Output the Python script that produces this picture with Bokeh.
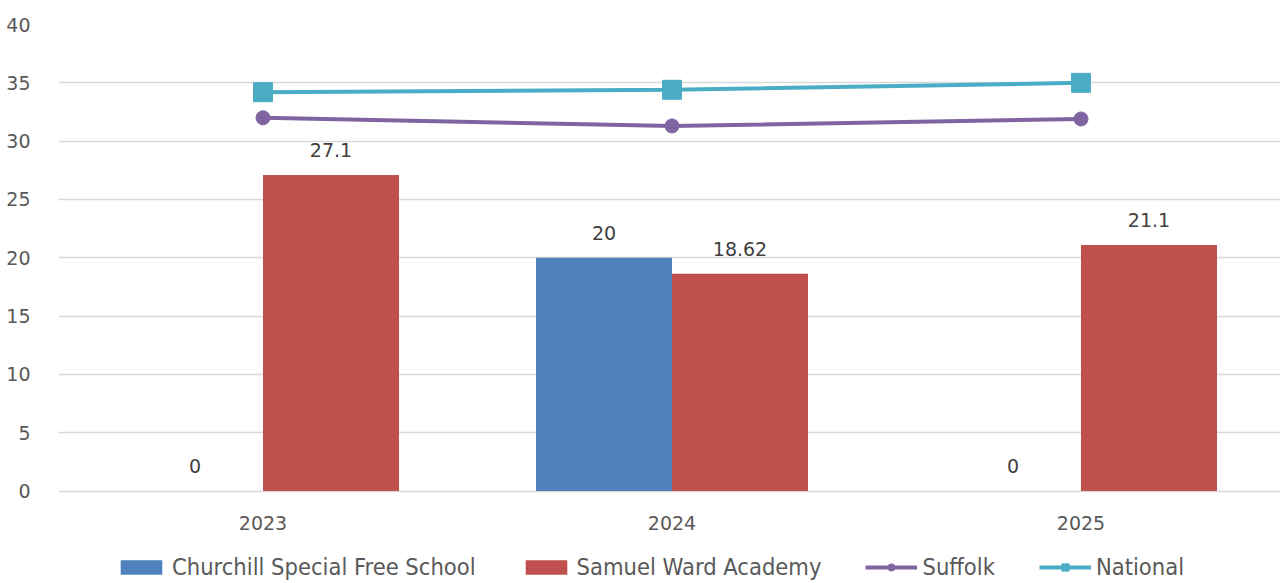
from bokeh.plotting import figure
from bokeh.models import ColumnDataSource, Range1d, FixedTicker, LabelSet, Legend, LegendItem
from bokeh.transform import dodge
from bokeh.core.properties import value
from bokeh.embed import file_html
from bokeh.resources import INLINE

years = ["2023", "2024", "2025"]
churchill = [0, 20, 0]
samuel_ward = [27.1, 18.62, 21.1]
suffolk = [32.0, 31.3, 31.9]
national = [34.2, 34.4, 35.0]
y_ticks = [0, 5, 10, 15, 20, 25, 30, 35, 40]

xs = list(range(len(years)))
src = ColumnDataSource(dict(
    x=xs,
    churchill=churchill,
    samuel=samuel_ward,
    suffolk=suffolk,
    national=national,
    churchill_lbl=[f"{v:g}" for v in churchill],
    samuel_lbl=[f"{v:g}" for v in samuel_ward],
))

W, H = 1280, 583
px_per_unit = 466.5 / 40
frame_h = H - 24
p = figure(width=W, height=H, output_backend="svg", toolbar_location=None,
           x_range=Range1d(-0.5, -0.5 + 1222 / 409),
           y_range=Range1d(40 - frame_h / px_per_unit, 40),
           min_border_left=58, min_border_right=0, min_border_top=24,
           min_border_bottom=0)
p.outline_line_color = None
p.background_fill_color = "white"

bw = 136 / 409
off = bw / 2
r_ch = p.vbar(x=dodge("x", -off), top="churchill", width=bw, source=src,
              fill_color="#4F81BD", line_color=None)
r_sw = p.vbar(x=dodge("x", off), top="samuel", width=bw, source=src,
              fill_color="#C0504D", line_color=None)

r_sl = p.line("x", "suffolk", source=src, line_color="#8064A2", line_width=4)
r_ss = p.scatter("x", "suffolk", source=src, marker="circle", size=14,
                 fill_color="#8064A2", line_color="#8064A2")
r_nl = p.line("x", "national", source=src, line_color="#4BACC6", line_width=4)
r_ns = p.scatter("x", "national", source=src, marker="square", size=19,
                 fill_color="#4BACC6", line_color="#4BACC6")

lbl_font = "DejaVu Sans"
for col, lcol, d in (("churchill", "churchill_lbl", -off), ("samuel", "samuel_lbl", off)):
    ls = LabelSet(x=dodge("x", d), y=col, text=lcol, source=src,
                  text_align="center", text_baseline="middle", y_offset=25,
                  text_font=value(lbl_font), text_font_size=value("19px"),
                  text_color=value("#404040"))
    p.add_layout(ls)

p.yaxis.ticker = FixedTicker(ticks=y_ticks)
p.xaxis.ticker = FixedTicker(ticks=xs)
p.xaxis.major_label_overrides = {i: y for i, y in enumerate(years)}
p.xaxis.fixed_location = 0
for ax in (p.xaxis, p.yaxis):
    ax.axis_line_color = None
    ax.major_tick_line_color = None
    ax.minor_tick_line_color = None
    ax.major_label_text_font = lbl_font
    ax.major_label_text_font_size = "19px"
    ax.major_label_text_color = "#595959"
p.yaxis.major_label_standoff = 22
p.xaxis.major_label_standoff = 19

p.xgrid.grid_line_color = None
p.ygrid.ticker = FixedTicker(ticks=y_ticks)
p.ygrid.grid_line_color = "#d9d9d9"
p.ygrid.grid_line_width = 1.5

legend = Legend(items=[
    LegendItem(label="Churchill Special Free School", renderers=[r_ch]),
    LegendItem(label="Samuel Ward Academy", renderers=[r_sw]),
    LegendItem(label="Suffolk", renderers=[r_sl, r_ss]),
    LegendItem(label="National", renderers=[r_nl, r_ns]),
], orientation="horizontal", location=(57, 2))
legend.border_line_color = None
legend.background_fill_alpha = 0
legend.padding = 0
legend.margin = 0
legend.spacing = 44
legend.glyph_width = 52
legend.glyph_height = 18
legend.label_standoff = 5
legend.label_text_font = "DejaVu Sans Condensed"
legend.label_text_font_size = "23.5px"
legend.label_text_color = "#595959"
p.add_layout(legend, "center")

open("out.html", "w").write(file_html(p, INLINE))
